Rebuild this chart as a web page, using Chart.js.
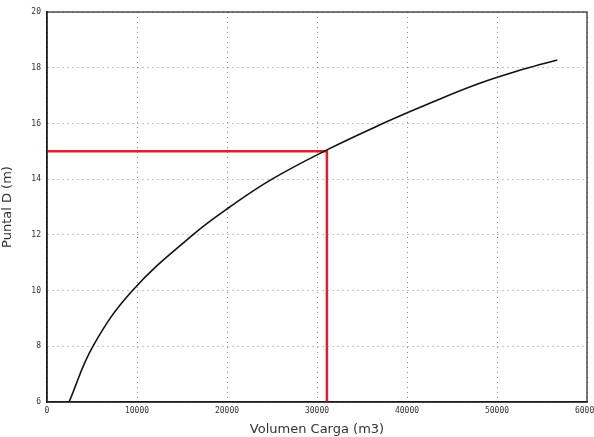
<!DOCTYPE html>
<html>
<head>
<meta charset="utf-8">
<script src="https://cdn.jsdelivr.net/npm/chart.js@4/dist/chart.umd.min.js"></script>
<style>
  html, body { margin: 0; padding: 0; background: #fff; }
</style>
</head>
<body>
<canvas id="chart" width="594" height="437"></canvas>
<script>
'use strict';

// Curve: volume (m3) vs depth D (m)
const volumen = [2450, 5100, 9500, 16200, 20300, 25000, 31100, 37000, 42000, 48000, 53000, 56700];
const puntal = [6.0, 8.0, 10.0, 12.0, 13.0, 14.0, 15.05, 15.95, 16.65, 17.43, 17.95, 18.28];

// Red reading lines (D = 15 m -> ~31000 m3)
const lecturaX = [0, 31100, 31100];
const lecturaY = [15, 15, 6];

const xTicks = [0, 10000, 20000, 30000, 40000, 50000, 60000];
const yTicks = [6, 8, 10, 12, 14, 16, 18, 20];

// Frame around the plot area
const framePlugin = {
    id: 'frame',
    afterDraw(chart) {
        const { ctx, chartArea: a } = chart;
        ctx.save();
        ctx.strokeStyle = '#222';
        ctx.lineWidth = 1.2;
        ctx.strokeRect(a.left, a.top, a.right - a.left, a.bottom - a.top);
        ctx.restore();
    }
};

const ctx = document.getElementById('chart');
new Chart(ctx.getContext('2d'), {
    type: 'scatter',
    data: {
        datasets: [{
            label: 'Curva',
            data: volumen.map((v, i) => ({ x: v, y: puntal[i] })),
            showLine: true,
            borderColor: '#111',
            borderWidth: 1.6,
            pointRadius: 0,
            tension: 0.4,
            fill: false
        }, {
            label: 'Lectura',
            data: lecturaX.map((v, i) => ({ x: v, y: lecturaY[i] })),
            showLine: true,
            borderColor: '#e0202a',
            borderWidth: 2.5,
            pointRadius: 0,
            tension: 0,
            fill: false
        }]
    },
    options: {
        responsive: false,
        animation: false,
        layout: { padding: { top: 12, right: 7, left: 0, bottom: 0 } },
        plugins: {
            legend: { display: false },
            tooltip: { enabled: false }
        },
        scales: {
            x: {
                type: 'linear',
                min: 0,
                max: 60000,
                afterBuildTicks(scale) {
                    scale.ticks = xTicks.map(v => ({ value: v }));
                },
                afterFit(scale) {
                    scale.height = 35;
                    scale.paddingRight = 0; // let the last label run off the edge
                },
                ticks: {
                    color: '#333',
                    font: { family: 'DejaVu Sans Mono', size: 8 },
                    padding: 4,
                    maxRotation: 0,
                    callback: v => String(v)
                },
                grid: {
                    color: 'rgba(0,0,0,0.45)',
                    lineWidth: 1,
                    drawTicks: false
                },
                border: { display: true, color: '#111', width: 1.5, dash: [1, 4] },
                title: {
                    display: true,
                    text: 'Volumen Carga (m3)',
                    color: '#333',
                    font: { family: 'DejaVu Sans', size: 13, weight: 'normal' },
                    padding: { top: 0, bottom: 0 }
                }
            },
            y: {
                type: 'linear',
                min: 6,
                max: 20,
                afterBuildTicks(scale) {
                    scale.ticks = yTicks.map(v => ({ value: v }));
                },
                afterFit(scale) { scale.width = 47; },
                ticks: {
                    color: '#333',
                    font: { family: 'DejaVu Sans Mono', size: 8 },
                    padding: 6
                },
                grid: {
                    color: 'rgba(0,0,0,0.45)',
                    lineWidth: 1,
                    drawTicks: false
                },
                border: { display: true, color: '#111', width: 1.5, dash: [1, 4] },
                title: {
                    display: true,
                    text: 'Puntal D (m)',
                    color: '#333',
                    font: { family: 'DejaVu Sans', size: 13, weight: 'normal' },
                    padding: { top: 0, bottom: 4 }
                }
            }
        }
    },
    plugins: [framePlugin]
});
</script>
</body>
</html>
